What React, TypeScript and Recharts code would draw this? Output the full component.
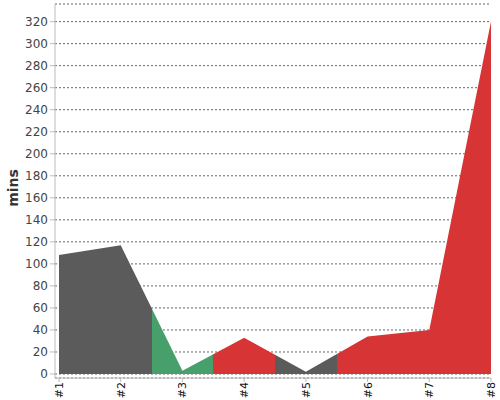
import { AreaChart, Area, XAxis, YAxis, CartesianGrid } from "recharts";

const LABELS = ["#1", "#2", "#3", "#4", "#5", "#6", "#7", "#8"];
const MINS = [108, 117, 3, 33, 2, 34, 40, 320];
const STATUS = ["gray", "gray", "green", "red", "gray", "red", "red", "red"];
const Y_TICKS = [0, 20, 40, 60, 80, 100, 120, 140, 160, 180, 200, 220, 240, 260, 280, 300, 320];

const FILLS: Record<string, string> = { gray: "#5b5b5b", green: "#47a06c", red: "#d73436" };

const data = LABELS.map((name, i) => ({ name, mins: MINS[i] }));

// hard colour stops halfway between neighbouring points
function gradientStops() {
  const n = LABELS.length - 1;
  const stops: { offset: number; color: string }[] = [];
  STATUS.forEach((s, i) => {
    const from = i === 0 ? 0 : (i - 0.5) / n;
    const to = i === n ? 1 : (i + 0.5) / n;
    stops.push({ offset: from, color: FILLS[s] }, { offset: to, color: FILLS[s] });
  });
  return stops;
}

const XTick = (props: any) => {
  const { x, y, payload } = props;
  return (
    <text
      x={x}
      y={y}
      transform={`rotate(-90 ${x} ${y})`}
      dy={4}
      textAnchor="end"
      fontSize={11}
      fill="#111"
      fontFamily="DejaVu Sans"
    >
      {payload.value}
    </text>
  );
};

export default function App() {
  return (
    <div style={{ position: "absolute", left: 0, top: 0, width: 500, height: 400, background: "#fff" }}>
      <AreaChart width={500} height={400} data={data} margin={{ top: 4, right: 9, bottom: 0, left: 0 }}>
        <defs>
          <linearGradient id="statusFill" x1="0" y1="0" x2="1" y2="0">
            {gradientStops().map((s, i) => (
              <stop key={i} offset={s.offset} stopColor={s.color} />
            ))}
          </linearGradient>
        </defs>
        <CartesianGrid vertical={false} stroke="#666" strokeDasharray="2 2" />
        <XAxis
          dataKey="name"
          height={22}
          padding={{ left: 4, right: 0 }}
          stroke="#bbb"
          tickSize={4}
          tickMargin={0}
          interval={0}
          tick={<XTick />}
        />
        <YAxis
          width={55}
          domain={[0, 336]}
          ticks={Y_TICKS}
          interval={0}
          padding={{ top: 0, bottom: 4 }}
          stroke="#bbb"
          tickSize={5}
          tickMargin={2}
          tick={{ fontSize: 12, fill: "#444", fontFamily: "DejaVu Sans" }}
          label={{
            value: "mins",
            angle: -90,
            position: "insideLeft",
            offset: 13,
            dy: -3,
            style: { fontSize: 14, fontWeight: "bold", fill: "#333", fontFamily: "DejaVu Sans", textAnchor: "middle" },
          }}
        />
        <Area
          type="linear"
          dataKey="mins"
          stroke="none"
          fill="url(#statusFill)"
          fillOpacity={1}
          isAnimationActive={false}
          dot={false}
          activeDot={false}
        />
      </AreaChart>
    </div>
  );
}
